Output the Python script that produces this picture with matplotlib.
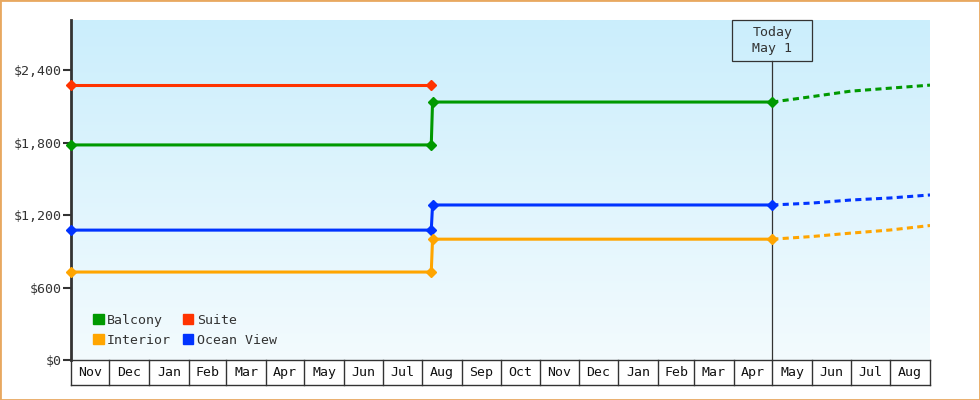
import matplotlib
matplotlib.use('Agg')
import matplotlib.pyplot as plt
import matplotlib.dates as mdates
import matplotlib.patches as mpatches
import matplotlib.transforms as mtransforms
from matplotlib.colors import LinearSegmentedColormap
import numpy as np
import pandas as pd

plt.rcParams['font.family'] = ['DejaVu Sans Mono']

# data
month_labels = ['Nov', 'Dec', 'Jan', 'Feb', 'Mar', 'Apr', 'May', 'Jun', 'Jul', 'Aug', 'Sep',
                'Oct', 'Nov', 'Dec', 'Jan', 'Feb', 'Mar', 'Apr', 'May', 'Jun', 'Jul', 'Aug']
x_start = '2023-11-01'
x_end = '2025-09-01'
today = '2025-05-01'
today_label = 'Today\nMay 1'

hist_dates = ['2023-11-01', '2024-08-08', '2024-08-09', '2025-05-01']
balcony = [1780, 1780, 2135, 2135]
interior = [728, 728, 1000, 1000]
ocean_view = [1075, 1075, 1283, 1283]
suite_dates = ['2023-11-01', '2024-08-08']
suite = [2275, 2275]

proj_dates = ['2025-05-01', '2025-06-01', '2025-07-01', '2025-08-01', '2025-09-01']
balcony_proj = [2135, 2180, 2225, 2250, 2275]
interior_proj = [1000, 1022, 1050, 1076, 1113]
ocean_view_proj = [1283, 1299, 1324, 1341, 1366]

y_ticks = [0, 600, 1200, 1800, 2400]
y_max = 2814

GREEN = '#009900'
RED = '#ff3300'
BLUE = '#0033ff'
ORANGE = '#ffa500'
DARK = '#333333'


def d(v):
    return mdates.date2num(pd.to_datetime(v))


fig = plt.figure(figsize=(9.8, 4), dpi=100)
fig.patches.append(mpatches.Rectangle((0, 0), 1, 1, transform=fig.transFigure,
                                      fill=False, edgecolor='#e8a860', lw=2))
ax = fig.add_axes([71 / 980, 40 / 400, 859 / 980, 340 / 400])

# background gradient
grad = np.linspace(0, 1, 256).reshape(-1, 1)
cmap = LinearSegmentedColormap.from_list('bg', ['#f3fbfe', '#cbeefc'])
ax.imshow(grad, extent=[0, 1, 0, 1], transform=ax.transAxes, aspect='auto',
          cmap=cmap, origin='lower', zorder=0)

hd = [d(v) for v in hist_dates]
pdts = [d(v) for v in proj_dates]
lw = 2.2
ms = 5.5
for vals, proj, col in [(balcony, balcony_proj, GREEN), (ocean_view, ocean_view_proj, BLUE),
                        (interior, interior_proj, ORANGE)]:
    ax.plot(hd, vals, color=col, lw=lw, marker='D', ms=ms, zorder=4, clip_on=False)
    ax.plot(pdts, proj, color=col, lw=lw, dashes=(2, 1.4), zorder=3)
ax.plot([d(v) for v in suite_dates], suite, color=RED, lw=lw, marker='D', ms=ms,
        zorder=4, clip_on=False)

ax.set_xlim(d(x_start), d(x_end))
ax.set_ylim(0, y_max)

# today marker
blend = mtransforms.blended_transform_factory(ax.transData, ax.transAxes)
t = d(today)
box_bottom = 1 - 41 / 340
half_w = 40 / (859 / (d(x_end) - d(x_start)))
ax.plot([t, t], [0, box_bottom], transform=blend, color=DARK, lw=0.9, zorder=2)
ax.add_patch(mpatches.Rectangle((t - half_w, box_bottom), 2 * half_w, 1 - box_bottom,
                                transform=blend, fill=False, edgecolor=DARK, lw=0.9,
                                zorder=5, clip_on=False))
ax.text(t, (1 + box_bottom) / 2, today_label, transform=blend, ha='center', va='center',
        fontsize=9.5, color=DARK, linespacing=1.35, zorder=6)

# month cells below the axis
month_starts = pd.date_range(x_start, x_end, freq='MS')
cell_h = 25 / 340
for ms_ in month_starts:
    ax.plot([d(ms_), d(ms_)], [-cell_h, 0], transform=blend, color=DARK, lw=1,
            clip_on=False)
ax.plot([d(x_start), d(x_end)], [-cell_h, -cell_h], transform=blend, color=DARK, lw=1,
        clip_on=False)
for a, b, lab in zip(month_starts[:-1], month_starts[1:], month_labels):
    ax.text((d(a) + d(b)) / 2, -cell_h / 2, lab, transform=blend, ha='center',
            va='center', fontsize=9.5, color='#111111')

# axes styling
for s in ['top', 'right']:
    ax.spines[s].set_visible(False)
ax.spines['left'].set_color(DARK)
ax.spines['left'].set_linewidth(2)
ax.spines['bottom'].set_color(DARK)
ax.spines['bottom'].set_linewidth(1)
ax.set_xticks([])
ax.set_yticks(y_ticks)
ax.set_yticklabels(['${:,}'.format(v) for v in y_ticks])
ax.tick_params(axis='y', length=6, width=1.5, color=DARK, labelcolor=DARK,
               labelsize=9.5, pad=1)

handles = [mpatches.Patch(color=GREEN), mpatches.Patch(color=ORANGE),
           mpatches.Patch(color=RED), mpatches.Patch(color=BLUE)]
labels = ['Balcony', 'Interior', 'Suite', 'Ocean View']
leg = ax.legend(handles, labels, ncol=2, loc='lower left', bbox_to_anchor=(0.018, 0.02),
                frameon=False, borderpad=0, handlelength=0.8, handleheight=0.8,
                handletextpad=0.25, columnspacing=0.9, labelspacing=0.5,
                prop={'size': 9.5})
for txt in leg.get_texts():
    txt.set_color(DARK)

fig.savefig('out.png', dpi=100)
